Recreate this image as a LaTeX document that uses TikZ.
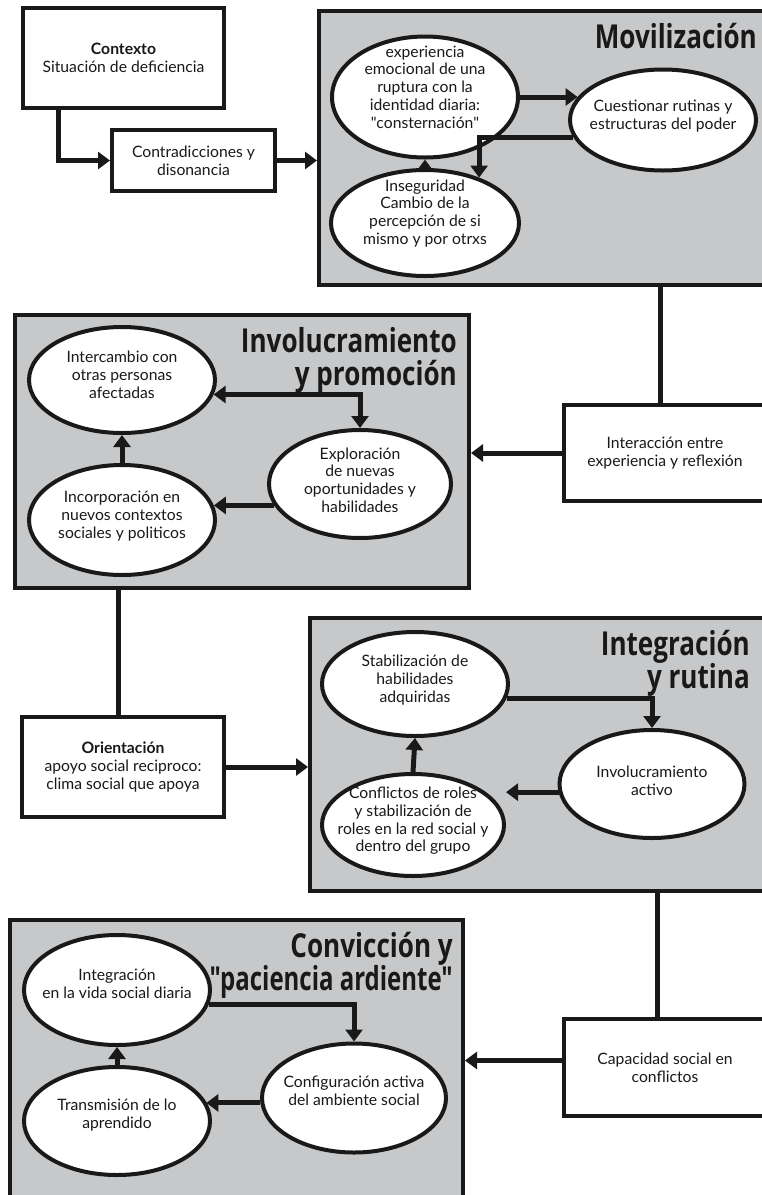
\documentclass[tikz,border=0pt]{standalone}
\usepackage{fontspec}
\newfontfamily\bodyfont{Lato}
\newfontfamily\headfont[FakeStretch=0.79]{Open Sans}
\usetikzlibrary{arrows.meta,shapes.geometric}
\definecolor{panelgray}{RGB}{199,200,202}
\definecolor{inkblack}{RGB}{25,25,25}

\begin{document}
\begin{tikzpicture}[
  x=1pt,
  y=-1pt,
  font=\bodyfont\fontsize{15.7}{17.8}\selectfont,
  text=inkblack,
  line/.style={draw=inkblack,line width=4pt},
  link/.style={draw=inkblack,line width=5pt},
  arrow/.style={link,-{Triangle[length=12pt,width=17pt]}},
  twoway/.style={link,{Triangle[length=12pt,width=17pt]}-{Triangle[length=12pt,width=17pt]}},
  panel/.style={line,fill=panelgray,inner sep=0pt},
  stagebox/.style={line,fill=white,align=center,inner sep=0pt},
  bubble/.style={line,fill=white,ellipse,align=center,inner sep=-20pt,text depth=11pt},
  heading/.style={font=\headfont\bfseries\fontsize{33}{33}\selectfont,align=right,inner sep=0pt,anchor=base east}
]
\useasboundingbox (0,0) rectangle (762,1195);
\clip (0,0) rectangle (762,1195);

% Stage panels
\node[panel,minimum width=447,minimum height=274] (mov) at (542.5,148) {};
\node[panel,minimum width=454,minimum height=273] (inb) at (242,451.5) {};
\node[panel,minimum width=456,minimum height=273] (itg) at (538,754.5) {};
\node[panel,minimum width=453,minimum height=310] (conv) at (236.5,1075) {};

% Section headings (base = last line)
\node[heading] (movtitle) at (757,48) {Movilización};
\node[heading] (inbtitle) at (457,385) {Involucramiento\\y promoción};
\node[heading] (itgtitle) at (750,688) {Integración\\y rutina};
\node[heading] (convtitle) at (453,990)
  {Convicción y\\\scalebox{0.92}[1]{"paciencia ardiente"}};

% Side boxes
\node[stagebox,minimum width=201,minimum height=100] (ctx) at (123.5,58)
  {\textbf{Contexto}\\Situación de deficiencia};
\node[stagebox,minimum width=163,minimum height=61] (cd) at (193.5,160.5)
  {Contradicciones y\\disonancia};
\node[stagebox,minimum width=202,minimum height=96] (ia) at (665,453)
  {Interacción entre\\experiencia y reflexión};
\node[stagebox,minimum width=202,minimum height=100] (ori) at (123,767)
  {\textbf{Orientación}\\apoyo social reciproco:\\clima social que apoya};
\node[stagebox,minimum width=202,minimum height=97] (cap) at (665,1067.5)
  {Capacidad social en\\conflictos};

% Links between stages
\draw[arrow] ([xshift=-65pt]ctx.south) |- (cd.west);
\draw[arrow] (cd.east) -- (cd.east -| mov.west);
\draw[link] (mov.south -| ia.north) ++(-5,0) -- ([xshift=-5pt]ia.north);
\draw[arrow] (ia.west) -- (ia.west -| inb.east);
\draw[link] (inb.south -| ori.north) ++(-5,0) -- ([xshift=-5pt]ori.north);
\draw[arrow] (ori.east) -- (ori.east -| itg.west);
\draw[link] (itg.south -| cap.north) ++(-8,0) -- ([xshift=-8pt]cap.north);
\draw[arrow] ([yshift=7pt]cap.west) -- ([yshift=7pt]cap.west -| conv.east);

% Movilizacion
\node[bubble,minimum width=186,minimum height=121,text depth=20pt] (e1) at (425,97)
  {experiencia\\emocional de una\\ruptura con la\\identidad diaria:\\"consternación"};
\node[bubble,minimum width=186,minimum height=101] (e2) at (663,120)
  {Cuestionar rutinas y\\estructuras del poder};
\node[bubble,minimum width=188,minimum height=106,text depth=22pt] (e3) at (425,223)
  {Inseguridad\\Cambio de la\\percepción de si\\mismo y por otrxs};
\draw[arrow] (e1.east) -- (e1.east -| e2.165);
\draw[arrow] (e2.191) -| (e3.40);
\draw[arrow] (e3.north) -- (e1.south);

% Involucramiento y promocion
\node[bubble,minimum width=186,minimum height=106] (ic) at (122,380)
  {Intercambio con\\otras personas\\afectadas};
\node[bubble,minimum width=182,minimum height=108,text depth=8pt] (ex) at (360,484)
  {Exploración\\de nuevas\\oportunidades y\\habilidades};
\node[bubble,minimum width=186,minimum height=110] (ip) at (122,520)
  {Incorporación en\\nuevos contextos\\sociales y politicos};
\draw[twoway] (ic.351) -| (ex.north);
\draw[arrow] (ex.194) -- (ex.194 -| ip.9);
\draw[arrow] (ip.north) -- (ic.south);

% Integracion y rutina
\node[bubble,minimum width=186,minimum height=104] (st) at (415,684)
  {Stabilización de\\habilidades\\adquiridas};
\node[bubble,minimum width=185,minimum height=108,text depth=7pt] (act) at (652,784)
  {Involucramiento\\activo};
\node[bubble,minimum width=182,minimum height=102] (cf) at (413,825)
  {Conflictos de roles\\y stabilización de\\roles en la red social y\\dentro del grupo};
\draw[arrow] (st.-9) -| (act.north);
\draw[arrow] (act.185) -- (act.185 -| cf.east);
\draw[arrow] (cf.north) -- (st.south);

% Conviccion y paciencia ardiente
\node[bubble,minimum width=186,minimum height=110,text depth=13pt] (vd) at (117,990)
  {Integración\\en la vida social diaria};
\node[bubble,minimum width=184,minimum height=109,text depth=15pt] (cfg) at (354,1098)
  {Configuración activa\\del ambiente social};
\node[bubble,minimum width=186,minimum height=108,text depth=14pt] (tr) at (117,1121)
  {Transmisión de lo\\aprendido};
\draw[arrow] (vd.-9) -| (cfg.north);
\draw[arrow] (cfg.183) -- (cfg.183 -| tr.12);
\draw[arrow] (tr.north) -- (vd.south);

\end{tikzpicture}
\end{document}
